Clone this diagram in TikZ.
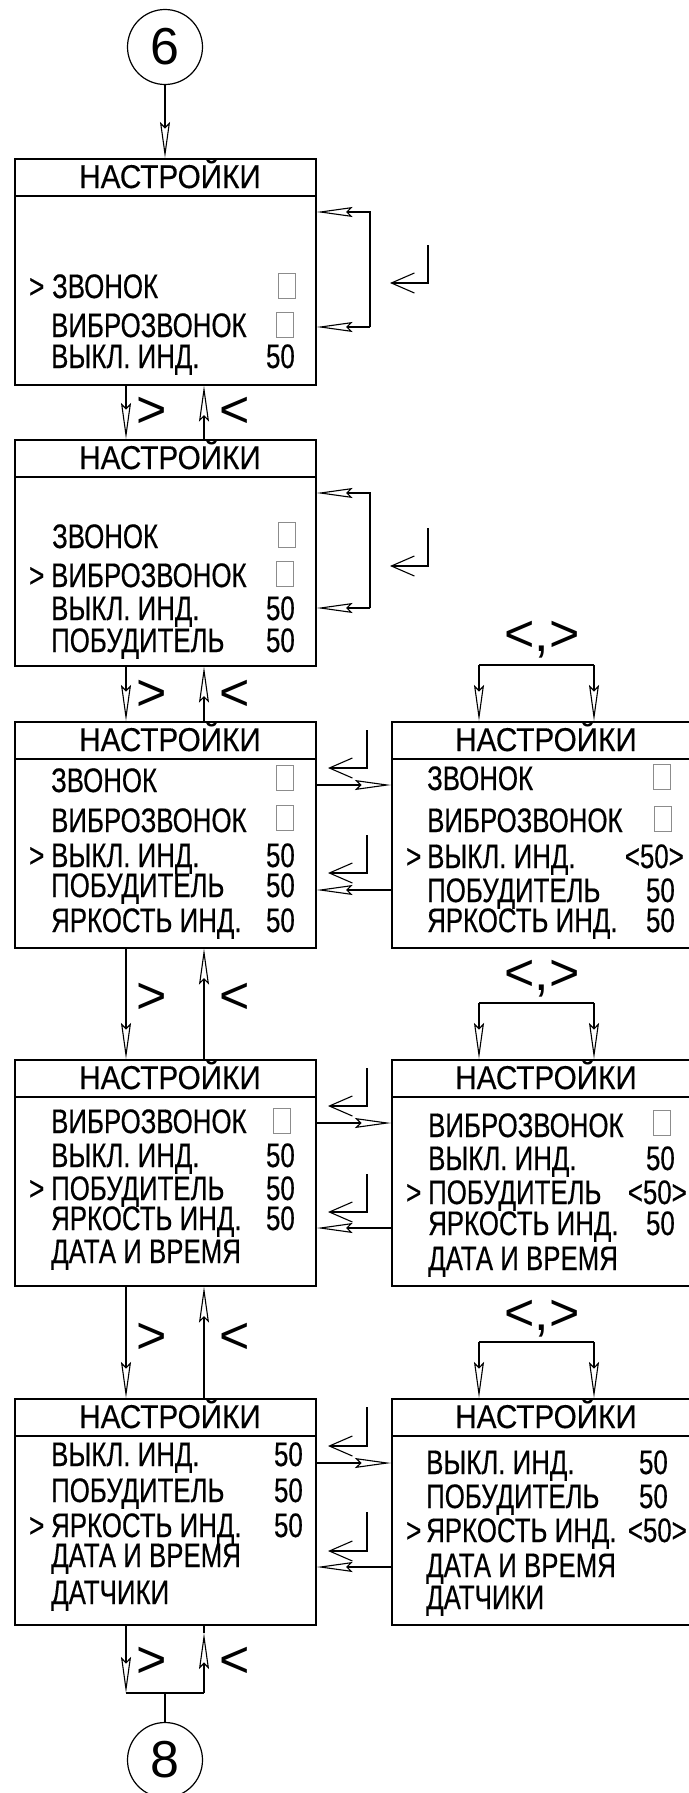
\documentclass[tikz,border=0pt]{standalone}
\usepackage{fontspec}
\setmainfont{Liberation Sans}
\newfontfamily\narrowfont[FakeStretch=0.76,FakeBold=0.4]{Liberation Sans}
\newfontfamily\headfont[FakeStretch=0.9,FakeBold=0.3]{Liberation Sans}
\usetikzlibrary{arrows.meta}

\begin{document}
\begin{tikzpicture}[x=1pt,y=-1pt,
  scr/.style={draw,line width=1.6pt,minimum width=301pt,minimum height=226pt,inner sep=0pt,anchor=north west},
  hdr/.style={inner sep=0pt,anchor=base,text height=25pt,text depth=1pt,font=\headfont\fontsize{33}{33}\selectfont},
  itm/.style={inner sep=0pt,anchor=base west,text height=25pt,text depth=1pt,font=\narrowfont\fontsize{34}{34}\selectfont},
  val/.style={inner sep=0pt,anchor=base east,text height=25pt,text depth=1pt,font=\narrowfont\fontsize{34}{34}\selectfont},
  chk/.style={draw=black!45,line width=0.8pt,minimum width=17pt,minimum height=25pt,inner sep=0pt,anchor=north west},
  key/.style={inner sep=0pt,font=\fontsize{52}{52}\selectfont},
  num/.style={draw,circle,line width=1.2pt,minimum size=75pt,inner sep=0pt,font=\fontsize{52}{52}\selectfont},
  arr/.style={line width=1.1pt,-{Stealth[open,length=36pt,width=10pt,inset=5pt]}},
  ent/.style={line width=1.1pt,-{Straight Barb[length=23pt,width=20pt]}}]
\useasboundingbox (0,0) rectangle (688,1793);
%%%%%%%%% screens
\node[scr] (b1) at (14,158) {};
\node[scr] (b2) at (14,439) {};
\node[scr] (b3) at (14,721) {};
\node[scr] (b4) at (14,1059) {};
\node[scr] (b5) at (14,1398) {};
\node[scr] (r3) at (391,721) {};
\node[scr] (r4) at (391,1059) {};
\node[scr] (r5) at (391,1398) {};
\foreach \b in {b1,b2,b3,b4,b5,r3,r4,r5}
  \draw[line width=1.6pt] ([yshift=-38pt]\b.north west) -- ([yshift=-38pt]\b.north east);

\node[hdr] (h1) at (170,188) {НАСТРОЙКИ};
\node[hdr] (h2) at (170,469) {НАСТРОЙКИ};
\node[hdr] (h3) at (170,751) {НАСТРОЙКИ};
\node[hdr] (h4) at (170,1089) {НАСТРОЙКИ};
\node[hdr] (h5) at (170,1428) {НАСТРОЙКИ};
\node[hdr] (g3) at (546,751) {НАСТРОЙКИ};
\node[hdr] (g4) at (546,1089) {НАСТРОЙКИ};
\node[hdr] (g5) at (546,1428) {НАСТРОЙКИ};

%%%%%%%%% entry
\node[num] (c6) at (165,47) {6};
\draw[arr] (c6.south) -- (c6.south |- b1.north);

%%%%%%%%% screen 1
\node[itm] (b1c) at (29,298) {>};
\node[itm] (b1a) at (52,298) {ЗВОНОК};
\node[chk] (b1x) at (278,273) {};
\node[itm] (b1b) at (51,337) {ВИБРОЗВОНОК};
\node[chk] (b1y) at (276,312) {};
\node[itm] (b1d) at (51,368) {ВЫКЛ. ИНД.};
\node[val] (b1v) at (295,368) {50};

\coordinate (k1) at (370,212);
\coordinate (k2) at (370,327);
\draw[arr] (k2) -- (k1) -- (k1 -| b1.east);
\draw[arr] (k2) -- (k2 -| b1.east);
\coordinate (e1) at (428,245);
\draw[ent] (e1) |- (390,283);

\draw[arr] ([xshift=112pt]b1.south west) -- ([xshift=112pt]b2.north west);
\draw[arr] ([xshift=190pt]b2.north west) -- ([xshift=190pt]b1.south west);
\node[key] (d1) at (152,412) {>};
\node[key] (u1) at (235,412) {<};

%%%%%%%%% screen 2
\node[itm] (b2a) at (52,548) {ЗВОНОК};
\node[chk] (b2x) at (278,522) {};
\node[itm] (b2c) at (29,587) {>};
\node[itm] (b2b) at (51,587) {ВИБРОЗВОНОК};
\node[chk] (b2y) at (276,561) {};
\node[itm] (b2d) at (51,620) {ВЫКЛ. ИНД.};
\node[val] (b2v) at (295,620) {50};
\node[itm] (b2e) at (51,652) {ПОБУДИТЕЛЬ};
\node[val] (b2w) at (295,652) {50};

\coordinate (k3) at (370,493);
\coordinate (k4) at (370,608);
\draw[arr] (k4) -- (k3) -- (k3 -| b2.east);
\draw[arr] (k4) -- (k4 -| b2.east);
\coordinate (e2) at (428,528);
\draw[ent] (e2) |- (390,566);

\draw[arr] ([xshift=112pt]b2.south west) -- ([xshift=112pt]b3.north west);
\draw[arr] ([xshift=190pt]b3.north west) -- ([xshift=190pt]b2.south west);
\node[key] (d2) at (152,695) {>};
\node[key] (u2) at (235,695) {<};

%%%%%%%%% screen 3
\node[itm] (b3a) at (51,792) {ЗВОНОК};
\node[chk] (b3x) at (276,765) {};
\node[itm] (b3b) at (51,832) {ВИБРОЗВОНОК};
\node[chk] (b3y) at (276,805) {};
\node[itm] (b3c) at (29,867) {>};
\node[itm] (b3d) at (51,867) {ВЫКЛ. ИНД.};
\node[val] (b3v) at (295,867) {50};
\node[itm] (b3e) at (51,897) {ПОБУДИТЕЛЬ};
\node[val] (b3w) at (295,897) {50};
\node[itm] (b3f) at (51,932) {ЯРКОСТЬ ИНД.};
\node[val] (b3u) at (295,932) {50};

\node[itm] (r3a) at (427,790) {ЗВОНОК};
\node[chk] (r3x) at (653,764) {};
\node[itm] (r3b) at (427,832) {ВИБРОЗВОНОК};
\node[chk] (r3y) at (654,806) {};
\node[itm] (r3c) at (406,868) {>};
\node[itm] (r3d) at (427,868) {ВЫКЛ. ИНД.};
\node[val] (r3v) at (684,868) {<50>};
\node[itm] (r3e) at (427,902) {ПОБУДИТЕЛЬ};
\node[val] (r3w) at (675,902) {50};
\node[itm] (r3f) at (427,932) {ЯРКОСТЬ ИНД.};
\node[val] (r3u) at (675,932) {50};

\draw[arr] ([yshift=-64pt]b3.north east) -- ([yshift=-64pt]r3.north west);
\draw[arr] ([yshift=-169pt]r3.north west) -- ([yshift=-169pt]b3.north east);
\coordinate (e3) at (367,730);
\draw[ent] (e3) |- (328,768);
\coordinate (e4) at (367,835);
\draw[ent] (e4) |- (328,873);

\node[key] (m3) at (542,640) {<,>};
\coordinate (m3l) at (479,665);
\coordinate (m3r) at (594,665);
\draw[line width=1.1pt] (m3l) -- (m3r);
\draw[arr] (m3l) -- (m3l |- r3.north);
\draw[arr] (m3r) -- (m3r |- r3.north);

\draw[arr] ([xshift=112pt]b3.south west) -- ([xshift=112pt]b4.north west);
\draw[arr] ([xshift=190pt]b4.north west) -- ([xshift=190pt]b3.south west);
\node[key] (d3) at (152,998) {>};
\node[key] (u3) at (235,998) {<};

%%%%%%%%% screen 4
\node[itm] (b4b) at (51,1133) {ВИБРОЗВОНОК};
\node[chk] (b4y) at (273,1108) {};
\node[itm] (b4d) at (51,1167) {ВЫКЛ. ИНД.};
\node[val] (b4v) at (295,1167) {50};
\node[itm] (b4c) at (29,1200) {>};
\node[itm] (b4e) at (51,1200) {ПОБУДИТЕЛЬ};
\node[val] (b4w) at (295,1200) {50};
\node[itm] (b4f) at (51,1230) {ЯРКОСТЬ ИНД.};
\node[val] (b4u) at (295,1230) {50};
\node[itm] (b4g) at (51,1263) {ДАТА И ВРЕМЯ};

\node[itm] (r4b) at (428,1137) {ВИБРОЗВОНОК};
\node[chk] (r4y) at (653,1110) {};
\node[itm] (r4d) at (428,1170) {ВЫКЛ. ИНД.};
\node[val] (r4v) at (675,1170) {50};
\node[itm] (r4c) at (406,1204) {>};
\node[itm] (r4e) at (428,1204) {ПОБУДИТЕЛЬ};
\node[val] (r4w) at (687,1204) {<50>};
\node[itm] (r4f) at (428,1235) {ЯРКОСТЬ ИНД.};
\node[val] (r4u) at (675,1235) {50};
\node[itm] (r4g) at (428,1270) {ДАТА И ВРЕМЯ};

\draw[arr] ([yshift=-64pt]b4.north east) -- ([yshift=-64pt]r4.north west);
\draw[arr] ([yshift=-169pt]r4.north west) -- ([yshift=-169pt]b4.north east);
\coordinate (e5) at (367,1068);
\draw[ent] (e5) |- (328,1106);
\coordinate (e6) at (367,1174);
\draw[ent] (e6) |- (328,1212);

\node[key] (m4) at (542,979) {<,>};
\coordinate (m4l) at (479,1003);
\coordinate (m4r) at (594,1003);
\draw[line width=1.1pt] (m4l) -- (m4r);
\draw[arr] (m4l) -- (m4l |- r4.north);
\draw[arr] (m4r) -- (m4r |- r4.north);

\draw[arr] ([xshift=112pt]b4.south west) -- ([xshift=112pt]b5.north west);
\draw[arr] ([xshift=190pt]b5.north west) -- ([xshift=190pt]b4.south west);
\node[key] (d4) at (152,1338) {>};
\node[key] (u4) at (235,1338) {<};

%%%%%%%%% screen 5
\node[itm] (b5d) at (51,1466) {ВЫКЛ. ИНД.};
\node[val] (b5v) at (303,1466) {50};
\node[itm] (b5e) at (51,1502) {ПОБУДИТЕЛЬ};
\node[val] (b5w) at (303,1502) {50};
\node[itm] (b5c) at (29,1537) {>};
\node[itm] (b5f) at (51,1537) {ЯРКОСТЬ ИНД.};
\node[val] (b5u) at (303,1537) {50};
\node[itm] (b5g) at (51,1567) {ДАТА И ВРЕМЯ};
\node[itm] (b5h) at (51,1604) {ДАТЧИКИ};

\node[itm] (r5d) at (426,1474) {ВЫКЛ. ИНД.};
\node[val] (r5v) at (668,1474) {50};
\node[itm] (r5e) at (426,1508) {ПОБУДИТЕЛЬ};
\node[val] (r5w) at (668,1508) {50};
\node[itm] (r5c) at (406,1542) {>};
\node[itm] (r5f) at (426,1542) {ЯРКОСТЬ ИНД.};
\node[val] (r5u) at (687,1542) {<50>};
\node[itm] (r5g) at (426,1577) {ДАТА И ВРЕМЯ};
\node[itm] (r5h) at (426,1609) {ДАТЧИКИ};

\draw[arr] ([yshift=-65pt]b5.north east) -- ([yshift=-65pt]r5.north west);
\draw[arr] ([yshift=-169pt]r5.north west) -- ([yshift=-169pt]b5.north east);
\coordinate (e7) at (367,1407);
\draw[ent] (e7) |- (328,1446);
\coordinate (e8) at (367,1512);
\draw[ent] (e8) |- (328,1551);

\node[key] (m5) at (542,1319) {<,>};
\coordinate (m5l) at (479,1342);
\coordinate (m5r) at (594,1342);
\draw[line width=1.1pt] (m5l) -- (m5r);
\draw[arr] (m5l) -- (m5l |- r5.north);
\draw[arr] (m5r) -- (m5r |- r5.north);

%%%%%%%%% exit
\coordinate (jl) at (126,1693);
\coordinate (jr) at (204,1693);
\coordinate (j) at (165,1693);
\coordinate (jt) at (204,1633);
\draw[arr] ([xshift=112pt]b5.south west) -- (jl);
\draw[line width=1.1pt] (jl) -- (jr);
\draw[arr] (jr) -- (jt);
\draw[line width=1.1pt] (jt) -- ([xshift=190pt]b5.south west);
\node[key] (d5) at (152,1662) {>};
\node[key] (u5) at (235,1662) {<};
\node[num] (c8) at (165,1760) {8};
\draw[line width=1.1pt] (j) -- (c8);
\end{tikzpicture}
\end{document}
